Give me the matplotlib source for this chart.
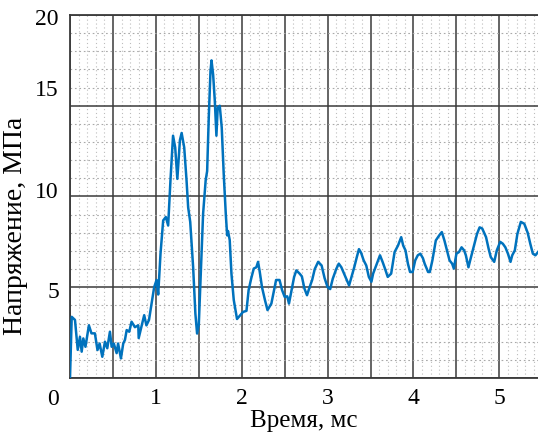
import numpy as np
import matplotlib
matplotlib.use("Agg")
import matplotlib.pyplot as plt
import matplotlib.transforms as mtransforms
from matplotlib.ticker import MultipleLocator, FixedLocator

plt.rcParams['font.family'] = ['Liberation Serif', 'DejaVu Serif']

time_ms = [0.0, 0.02, 0.058, 0.09, 0.116, 0.136, 0.155, 0.18, 0.22, 0.25, 0.29, 0.32, 0.345, 0.376,
           0.407, 0.434, 0.465, 0.485, 0.51, 0.543, 0.56, 0.593, 0.62, 0.64, 0.66, 0.69, 0.717,
           0.756, 0.795, 0.80, 0.83, 0.864, 0.89, 0.92, 0.95, 0.98, 1.008, 1.027, 1.054, 1.085,
           1.116, 1.143, 1.17, 1.2, 1.225, 1.25, 1.28, 1.30, 1.33, 1.357, 1.376, 1.40, 1.434,
           1.46, 1.48, 1.5, 1.523, 1.55, 1.58, 1.597, 1.616, 1.636, 1.648, 1.667, 1.686, 1.705,
           1.72, 1.744, 1.767, 1.79, 1.814, 1.83, 1.84, 1.86, 1.88, 1.907, 1.945, 1.977, 2.015,
           2.055, 2.08, 2.11, 2.14, 2.17, 2.19, 2.21, 2.236, 2.27, 2.3, 2.345, 2.376, 2.4, 2.44,
           2.47, 2.5, 2.53, 2.55, 2.58, 2.61, 2.636, 2.674, 2.7, 2.73, 2.76, 2.79, 2.82, 2.85,
           2.89, 2.93, 2.965, 3.0, 3.03, 3.06, 3.1, 3.13, 3.16, 3.2, 3.25, 3.28, 3.31, 3.34,
           3.365, 3.39, 3.42, 3.45, 3.48, 3.51, 3.53, 3.566, 3.61, 3.64, 3.67, 3.70, 3.74, 3.78,
           3.82, 3.857, 3.88, 3.907, 3.935, 3.96, 3.99, 4.02, 4.05, 4.08, 4.11, 4.13, 4.17,
           4.19, 4.22, 4.26, 4.30, 4.33, 4.36, 4.39, 4.42, 4.45, 4.47, 4.50, 4.53, 4.56, 4.59,
           4.61, 4.64, 4.66, 4.70, 4.74, 4.77, 4.80, 4.845, 4.875, 4.90, 4.94, 4.97, 5.01,
           5.04, 5.07, 5.10, 5.13, 5.15, 5.18, 5.21, 5.25, 5.29, 5.33, 5.36, 5.39, 5.42, 5.45]

stress_mpa = [0.0, 3.37, 3.2, 1.55, 2.27, 1.45, 2.18, 1.72, 2.9, 2.46, 2.46, 1.54, 1.9, 1.17,
              2.0, 1.64, 2.55, 1.72, 1.9, 1.37, 1.9, 1.08, 1.9, 2.1, 2.64, 2.55, 3.1,
              2.8, 2.9, 2.2, 2.8, 3.46, 2.9, 3.2, 4.1, 5.0, 5.4, 4.6, 6.85, 8.68,
              8.87, 8.4, 10.9, 13.35, 12.7, 10.97, 13.1, 13.5, 12.7, 10.9, 9.4, 8.6, 6.1,
              3.55, 2.45, 2.95, 5.75, 9.05, 10.9, 11.4, 14.36, 16.9, 17.5, 16.7, 15.3, 13.35,
              14.9, 15.0, 13.8, 11.25, 9.05, 7.86, 8.1, 7.6, 5.75, 4.3, 3.25, 3.43, 3.64,
              3.7, 4.84, 5.48, 6.03, 6.1, 6.4, 5.84, 5.0, 4.3, 3.74, 4.1, 4.84, 5.4, 5.4,
              4.84, 4.47, 4.5, 4.1, 4.84, 5.57, 5.93, 5.75, 5.6, 4.93, 4.56, 5.0, 5.4, 6.0,
              6.4, 6.2, 5.5, 5.0, 4.9, 5.47, 6.0, 6.3, 6.1, 5.66, 5.1, 5.6, 6.1, 6.66,
              7.1, 6.9, 6.48, 6.2, 5.57, 5.3, 5.75, 6.2, 6.76, 6.4, 6.0, 5.57, 5.75, 6.94,
              7.3, 7.76, 7.3, 7.03, 6.3, 5.84, 5.84, 6.48, 6.76, 6.85, 6.6, 6.3, 5.84,
              5.84, 6.48, 7.58, 7.86, 8.04, 7.58, 7.03, 6.48, 6.3, 6.03, 6.85, 6.94, 7.2, 7.03,
              6.76, 6.1, 6.48, 7.2, 7.94, 8.3, 8.24, 7.76, 7.12, 6.66, 6.4, 7.03, 7.5,
              7.4, 7.2, 6.85, 6.4, 6.76, 7.03, 7.94, 8.6, 8.5, 8.0, 7.4, 6.85, 6.76, 6.94]

x_ticks = [1, 2, 3, 4, 5]
y_ticks = [0, 5, 10, 15, 20]
x_label = "Время, мс"
y_label = "Напряжение, МПа"

fig = plt.figure(figsize=(5.38, 4.38), dpi=100)
ax = fig.add_axes([70/538, 60/438, 1 - 70/538, 363/438])

ax.set_xlim(0, 5.45)
ax.set_ylim(0, 20)

ax.xaxis.set_major_locator(MultipleLocator(0.5))
ax.xaxis.set_minor_locator(MultipleLocator(0.1))
ax.yaxis.set_major_locator(FixedLocator(y_ticks))
ax.yaxis.set_minor_locator(MultipleLocator(1))

ax.grid(which='major', color='#3a3a3a', linewidth=1.1, linestyle='-')
ax.grid(which='minor', axis='x', color='#bdbdbd', linewidth=0.8, linestyle=(0, (1, 2.5)))
ax.grid(which='minor', axis='y', color='#a8a8a8', linewidth=0.8, linestyle=(0, (1.5, 2.5)))
ax.set_axisbelow(True)

ax.plot(time_ms, stress_mpa, color='#0072BD', linewidth=1.8, zorder=3)

def xfmt(v, pos):
    r = round(v)
    return f"{r:d}" if (abs(v - r) < 1e-9 and r in x_ticks) else ""

ax.xaxis.set_major_formatter(plt.FuncFormatter(xfmt))
ax.yaxis.set_major_formatter(plt.FuncFormatter(lambda v, p: f"{v:g}"))

ax.tick_params(which='both', length=0, labelsize=17)
ax.tick_params(axis='x', pad=7)
ax.tick_params(axis='y', pad=8)

# the reference's y tick labels sit slightly off their gridlines
label_shift_px = {0: 19, 5: 3, 10: -6, 15: -18, 20: 2}
fig.canvas.draw()
for tick in ax.yaxis.get_major_ticks():
    loc = round(tick.get_loc())
    dy = label_shift_px.get(loc, 0)
    off = mtransforms.ScaledTranslation(0, -dy / 100.0, fig.dpi_scale_trans)
    tick.label1.set_transform(tick.label1.get_transform() + off)

for s in ['left', 'bottom', 'top']:
    ax.spines[s].set_color('#3a3a3a')
    ax.spines[s].set_linewidth(1.3)
ax.spines['right'].set_visible(False)

ax.set_xlabel(x_label, fontsize=18, labelpad=1)
ax.set_ylabel(y_label, fontsize=20)
ax.yaxis.set_label_coords(-0.09, 0.42)

fig.savefig("out.png", dpi=100)
